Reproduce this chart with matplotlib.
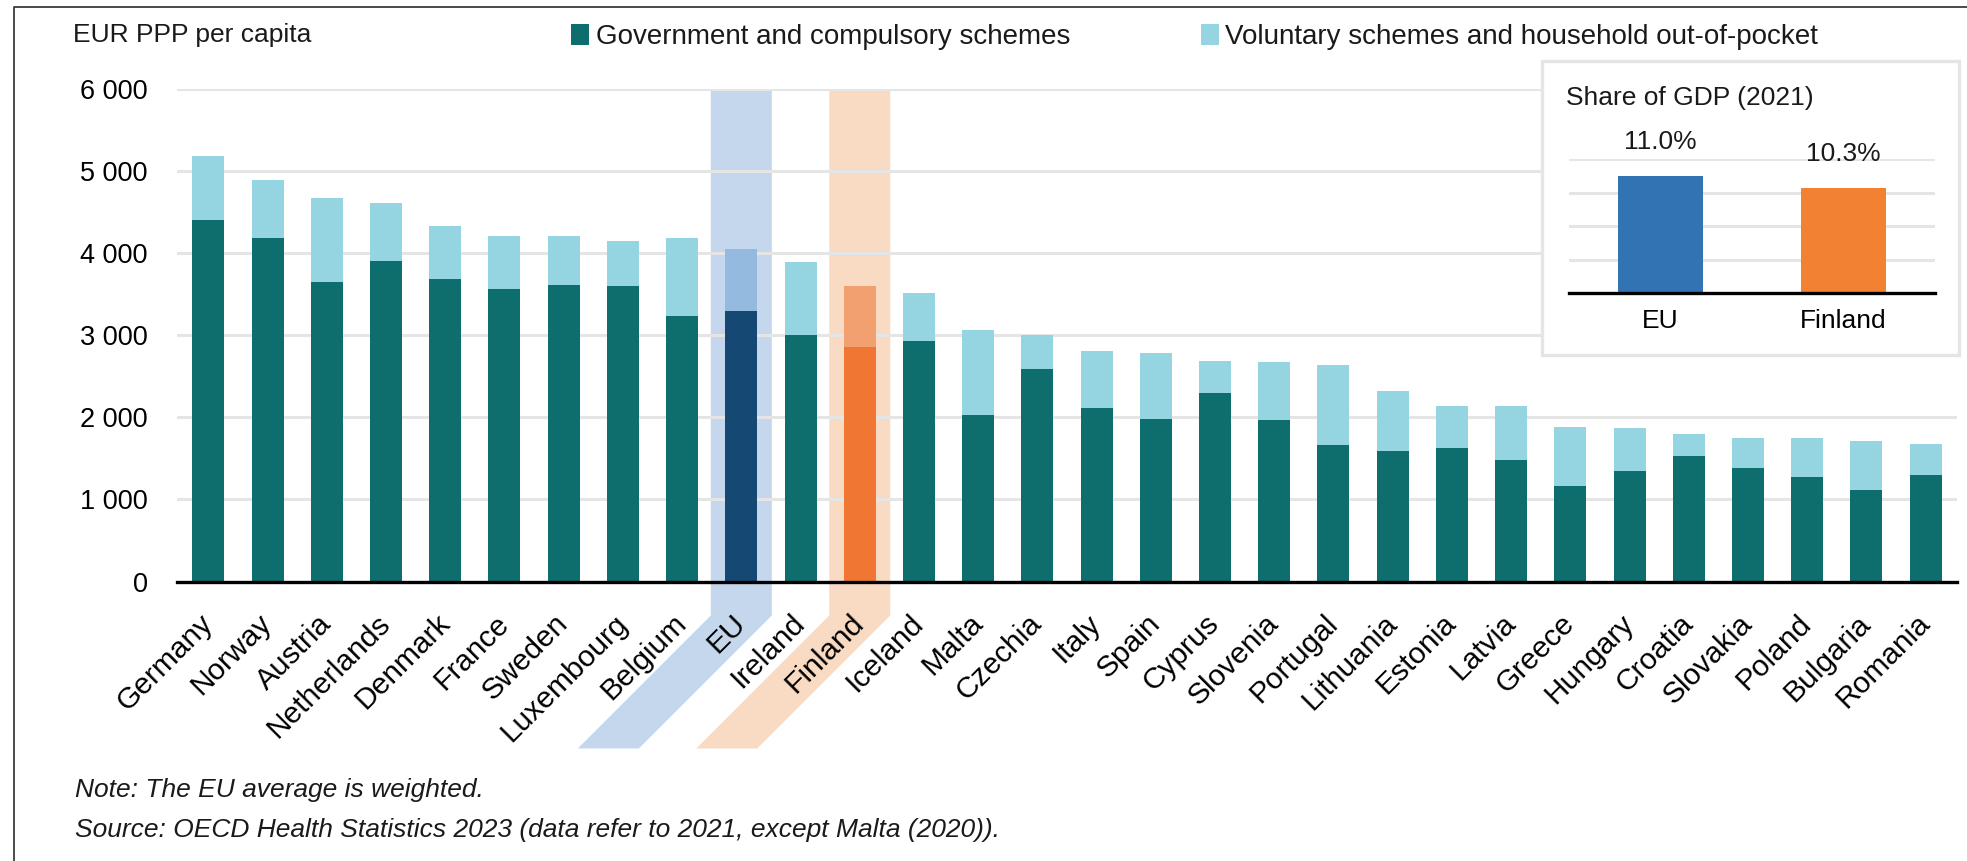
"""Current health expenditure per capita by financing scheme, EU countries, 2021."""

import matplotlib.pyplot as plt
from matplotlib.lines import Line2D
from matplotlib.patches import Polygon, Rectangle
from matplotlib.ticker import FuncFormatter, MultipleLocator
from matplotlib.transforms import IdentityTransform

COUNTRIES = [
    "Germany", "Norway", "Austria", "Netherlands", "Denmark", "France", "Sweden",
    "Luxembourg", "Belgium", "EU", "Ireland", "Finland", "Iceland", "Malta",
    "Czechia", "Italy", "Spain", "Cyprus", "Slovenia", "Portugal", "Lithuania",
    "Estonia", "Latvia", "Greece", "Hungary", "Croatia", "Slovakia", "Poland",
    "Bulgaria", "Romania",
]
GOVERNMENT = [
    4400, 4180, 3650, 3910, 3690, 3560, 3610, 3600, 3240, 3295, 3000, 2855,
    2930, 2030, 2590, 2115, 1975, 2295, 1970, 1665, 1590, 1625, 1480, 1160,
    1345, 1535, 1380, 1270, 1120, 1300,
]
VOLUNTARY = [
    780, 715, 1020, 705, 640, 655, 605, 550, 940, 750, 890, 745,
    580, 1035, 410, 690, 810, 390, 705, 975, 725, 510, 655, 720,
    520, 260, 370, 480, 595, 380,
]
Y_TICKS = [0, 1000, 2000, 3000, 4000, 5000, 6000]

GDP_LABELS = ["EU", "Finland"]
GDP_SHARE = [11.0, 10.3]

TEAL = "#0e6e6e"
LIGHT = "#95d5e1"
HIGHLIGHT = {  # country -> (government colour, voluntary colour, band colour)
    "EU": ("#164874", "#94badf", "#c4d7ec"),
    "Finland": ("#f07733", "#f2a06f", "#f9dac3"),
}
GDP_COLORS = ["#3173b3", "#f28232"]
GRID = "#e5e5e5"

W, H = 1967, 861
plt.rcParams["font.family"] = ["Liberation Sans", "DejaVu Sans"]
plt.rcParams["font.size"] = 19
plt.rcParams["text.color"] = "#1a1a1a"


def px(x, y):
    """Figure fraction from pixel position measured from the top-left."""
    return x / W, 1 - y / H


fig = plt.figure(figsize=(W / 100, H / 100), dpi=100)

# main chart
ax = fig.add_axes([177 / W, 1 - 581.5 / H, 1780 / W, 492.5 / H])
ax.set_facecolor("none")
x = list(range(len(COUNTRIES)))
gov_colors = [HIGHLIGHT.get(c, (TEAL,))[0] for c in COUNTRIES]
vol_colors = [HIGHLIGHT.get(c, (None, LIGHT))[1] for c in COUNTRIES]
gov_bars = ax.bar(x, GOVERNMENT, width=0.54, color=gov_colors, zorder=2,
                  label="Government and compulsory schemes")
vol_bars = ax.bar(x, VOLUNTARY, width=0.54, bottom=GOVERNMENT, color=vol_colors,
                  zorder=2, label="Voluntary schemes and household out-of-pocket")

ax.set_xlim(-0.53, len(COUNTRIES) - 0.47)
ax.set_ylim(0, 6000)
ax.set_yticks(Y_TICKS)
ax.yaxis.set_major_formatter(FuncFormatter(lambda v, _: f"{int(v):,}".replace(",", " ")))
ax.grid(axis="y", color=GRID, linewidth=2.2)
ax.set_axisbelow(True)
for side in ("top", "right", "left"):
    ax.spines[side].set_visible(False)
ax.spines["bottom"].set_linewidth(2.4)
ax.spines["bottom"].set_color("black")
ax.spines["bottom"].set_zorder(3)
ax.tick_params(axis="y", length=0, pad=21, labelsize=19.5)
ax.tick_params(axis="x", length=0, pad=27)
ax.set_xticks(x)
ax.set_xticklabels(COUNTRIES, rotation=45, ha="right", va="center",
                   rotation_mode="anchor", fontsize=21.5)

# highlight bands for EU and Finland, bending with the tick label
for name, (_, _, band) in HIGHLIGHT.items():
    i = COUNTRIES.index(name)
    xl, ytop = ax.transData.transform((i - 0.515, 6000))
    xr, yax = ax.transData.transform((i + 0.515, 0))
    ybreak = yax - 34
    shift = 133
    pts = [(xl, ytop), (xr, ytop), (xr, ybreak), (xr - shift, ybreak - shift),
           (xl - shift, ybreak - shift), (xl, ybreak)]
    fig.add_artist(Polygon(pts, closed=True, facecolor=band, edgecolor="none",
                           transform=IdentityTransform(), zorder=-1))

fig.text(*px(73, 35), "EUR PPP per capita", ha="left", va="center")
fig.legend(handles=[gov_bars, vol_bars], loc="center left",
           bbox_to_anchor=px(571, 37), ncol=2, frameon=False, fontsize=20,
           handlelength=0.65, handleheight=0.8, handletextpad=0.24,
           columnspacing=4.7, borderpad=0, borderaxespad=0)

# inset: share of GDP
fig.add_artist(Rectangle(px(1542, 355), 417 / W, 294 / H, transform=fig.transFigure,
                         facecolor="white", edgecolor=GRID, linewidth=2.4, zorder=1))
ins = fig.add_axes([1569 / W, 1 - 293.3 / H, 366 / W, 134.3 / H], zorder=2)
ins.set_facecolor("none")
ins.bar(range(len(GDP_LABELS)), GDP_SHARE, width=0.465, color=GDP_COLORS, zorder=2)
ins.set_xlim(-0.5, len(GDP_LABELS) - 0.5)
ins.set_ylim(4, 12)
ins.yaxis.set_major_locator(MultipleLocator(2))
ins.grid(axis="y", color=GRID, linewidth=2.2)
ins.set_axisbelow(True)
ins.set_yticklabels([])
ins.tick_params(length=0)
ins.tick_params(axis="x", pad=11)
ins.set_xticks(range(len(GDP_LABELS)))
ins.set_xticklabels(GDP_LABELS)
for side in ("top", "right", "left"):
    ins.spines[side].set_visible(False)
ins.spines["bottom"].set_linewidth(2.4)
ins.spines["bottom"].set_zorder(3)
for i, v in enumerate(GDP_SHARE):
    ins.annotate(f"{v:.1f}%", (i, v), xytext=(0, 19), textcoords="offset points",
                 ha="center", va="baseline", annotation_clip=False)
fig.text(*px(1566, 98), "Share of GDP (2021)", ha="left", va="center")

# notes
fig.text(*px(75, 790), "Note: The EU average is weighted.", style="italic",
         ha="left", va="center")
fig.text(*px(75, 830),
         "Source: OECD Health Statistics 2023 (data refer to 2021, except Malta (2020)).",
         style="italic", ha="left", va="center")

# frame lines on the left and top
fig.add_artist(Line2D([14 / W, 14 / W, 1], [0, 1 - 7 / H, 1 - 7 / H],
                      transform=fig.transFigure, color="#3c3c3c", linewidth=1.3))

fig.savefig("out.png", dpi=100)
